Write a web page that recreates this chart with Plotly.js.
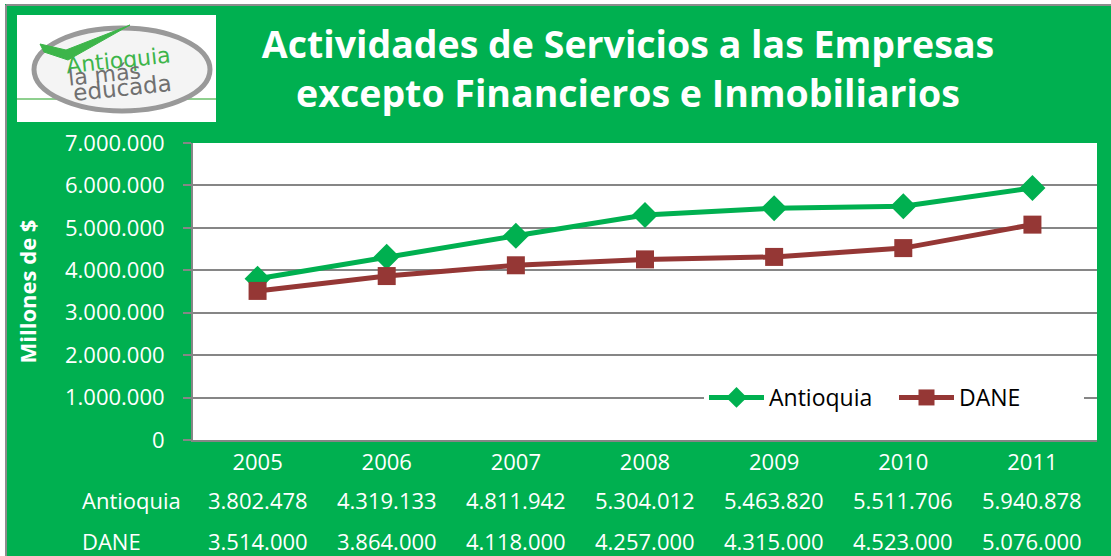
<!DOCTYPE html>
<html>
<head>
<meta charset="utf-8">
<script src="https://cdn.plot.ly/plotly-3.0.1.min.js"></script>
<style>html,body{margin:0;padding:0;background:#fff;}#chart{width:1111px;height:556px;}</style>
</head>
<body>
<div id="chart"></div>
<script>
const years = ["2005","2006","2007","2008","2009","2010","2011"];
const antioquia = [3802478, 4319133, 4811942, 5304012, 5463820, 5511706, 5940878];
const dane = [3514000, 3864000, 4118000, 4257000, 4315000, 4523000, 5076000];
const seriesNames = ["Antioquia", "DANE"];
const titleLines = ["Actividades de Servicios a las Empresas", "excepto Financieros e Inmobiliarios"];
const yTitle = "Millones de $";
const logoLines = ["Antioquia", "la más", "educada"];

const GREEN_BG = "#00B050";
const C_ANT = "#00B050";
const C_DANE = "#953735";
const GRID = "#868686";
const FONT = "Open Sans, sans-serif";

// pixel -> paper helpers (plot area L,R,T,B)
const L = 193, R = 1097, T = 143, B = 440;
const px = x => (x - L) / (R - L);
const py = y => (B - y) / (B - T);

function fmt(v) {
  return String(Math.round(v)).replace(/\B(?=(\d{3})+(?!\d))/g, ".");
}

const traces = [
  {
    x: years, y: antioquia, name: seriesNames[0], type: "scatter", mode: "lines+markers",
    line: {color: C_ANT, width: 5},
    marker: {symbol: "diamond", size: 20, color: C_ANT},
    hoverinfo: "skip"
  },
  {
    x: years, y: dane, name: seriesNames[1], type: "scatter", mode: "lines+markers",
    line: {color: C_DANE, width: 5},
    marker: {symbol: "square", size: 18, color: C_DANE},
    hoverinfo: "skip"
  }
];

const annotations = [];
// data table rows
const rows = [[seriesNames[0], antioquia, 500], [seriesNames[1], dane, 541]];
rows.forEach(([label, vals, yy]) => {
  annotations.push({xref: "paper", yref: "paper", x: px(80), y: py(yy), xanchor: "left", yanchor: "middle",
    text: label, showarrow: false, font: {family: FONT, size: 22, color: "#fff"}});
  vals.forEach((v, i) => {
    annotations.push({xref: "x", yref: "paper", x: i, y: py(yy), xanchor: "center", yanchor: "middle",
      text: fmt(v), showarrow: false, font: {family: FONT, size: 22, color: "#fff"}});
  });
});
// logo texts
const LOGO_FONT = "DejaVu Sans, sans-serif";
annotations.push({xref: "paper", yref: "paper", x: px(118), y: py(61), xanchor: "center", yanchor: "middle",
  text: logoLines[0], showarrow: false, textangle: -6, font: {family: LOGO_FONT, size: 22, color: "#3DB54A"}});
annotations.push({xref: "paper", yref: "paper", x: px(104), y: py(75), xanchor: "center", yanchor: "middle",
  text: logoLines[1], showarrow: false, textangle: -6, font: {family: LOGO_FONT, size: 22, color: "#707070"}});
annotations.push({xref: "paper", yref: "paper", x: px(122), y: py(88), xanchor: "center", yanchor: "middle",
  text: logoLines[2], showarrow: false, textangle: -6, font: {family: LOGO_FONT, size: 23, color: "#707070"}});

const shapes = [
  // white outer margin and gray border
  {type: "rect", xref: "paper", yref: "paper", x0: px(-5), x1: px(5), y0: py(600), y1: py(-5), fillcolor: "#fff", line: {width: 0}},
  {type: "rect", xref: "paper", yref: "paper", x0: px(-5), x1: px(1120), y0: py(4), y1: py(-5), fillcolor: "#fff", line: {width: 0}},
  {type: "line", xref: "paper", yref: "paper", x0: px(6), x1: px(6), y0: py(5), y1: py(600), line: {color: "#8c8c8c", width: 2}},
  {type: "line", xref: "paper", yref: "paper", x0: px(6), x1: px(1120), y0: py(5), y1: py(5), line: {color: "#8c8c8c", width: 2}},
  // logo box
  {type: "rect", xref: "paper", yref: "paper", x0: px(17), x1: px(216), y0: py(122), y1: py(15), fillcolor: "#fff", line: {width: 0}},
  {type: "line", xref: "paper", yref: "paper", x0: px(17), x1: px(216), y0: py(99), y1: py(99), line: {color: "#8fd08f", width: 2}},
  {type: "circle", xref: "paper", yref: "paper", x0: px(34), x1: px(210), y0: py(111), y1: py(28), fillcolor: "#f4f4f4", line: {color: "#999999", width: 5}},
  {type: "path", xref: "paper", yref: "paper",
    path: "M " + px(40) + "," + py(44) + " L " + px(66) + "," + py(50) + " L " + px(130) + "," + py(25) +
          " L " + px(68) + "," + py(60) + " L " + px(44) + "," + py(52) + " Z",
    fillcolor: "#3DB54A", line: {color: "#3DB54A", width: 1}}
];

const layout = {
  width: 1111, height: 556,
  paper_bgcolor: GREEN_BG, plot_bgcolor: "#fff",
  separators: ",.",
  margin: {l: L, r: 1111 - R, t: T, b: 556 - B, pad: 0, autoexpand: false},
  font: {family: FONT, color: "#fff"},
  title: {
    text: "<b>" + titleLines[0] + "<br>" + titleLines[1] + "</b>",
    x: 628 / 1111, xanchor: "center", xref: "container",
    y: 1 - 58 / 556, yanchor: "middle", yref: "container",
    font: {family: FONT, size: 37.5, color: "#fff"}
  },
  xaxis: {
    type: "category", range: [-0.5, 6.5], fixedrange: true, automargin: false,
    showline: true, linecolor: GRID, linewidth: 2,
    showgrid: false, ticks: "", ticklabelstandoff: 2,
    tickfont: {family: FONT, size: 22, color: "#fff"}
  },
  yaxis: {
    range: [0, 7000000], dtick: 1000000, tick0: 0, tickformat: ",d", fixedrange: true, automargin: false,
    showline: true, linecolor: GRID, linewidth: 2,
    showgrid: true, gridcolor: GRID, gridwidth: 2, zeroline: false,
    ticks: "outside", ticklen: 8, tickcolor: GRID, tickwidth: 2, ticklabelstandoff: 14,
    tickfont: {family: FONT, size: 22, color: "#fff"},
    title: {text: "<b>" + yTitle + "</b>", standoff: 22, font: {family: FONT, size: 22, color: "#fff"}}
  },
  showlegend: true,
  legend: {
    orientation: "h", x: px(704), y: py(376), xanchor: "left", yanchor: "top",
    bgcolor: "#fff", font: {family: FONT, size: 23, color: "#000"},
    itemwidth: 55, entrywidth: 120, entrywidthmode: "pixels", tracegroupgap: 0
  },
  annotations: annotations,
  shapes: shapes
};

Plotly.newPlot("chart", traces, layout, {displayModeBar: false, staticPlot: true});
</script>
</body>
</html>
